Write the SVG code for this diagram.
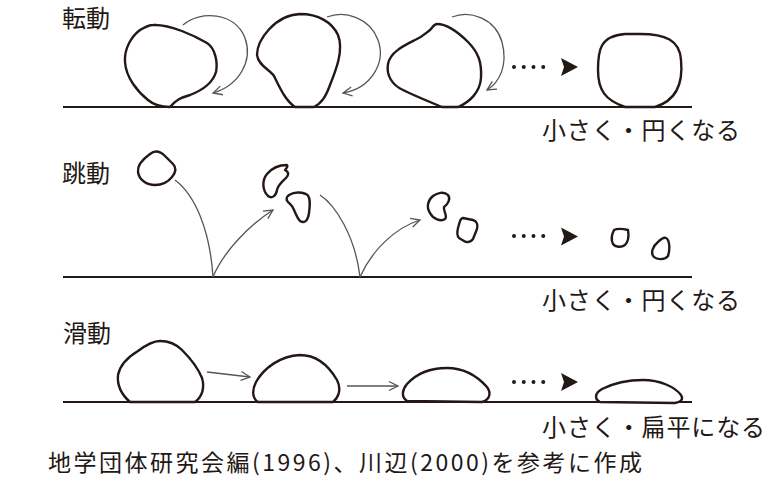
<svg xmlns="http://www.w3.org/2000/svg" width="774" height="483" viewBox="0 0 774 483">
  <defs>
    <style>
      .ground { stroke: #231815; stroke-width: 2.2; fill: none; }
      .rock { stroke: #231815; stroke-width: 2.4; fill: #ffffff; stroke-linejoin: round; }
      .move { stroke: #555555; stroke-width: 1.3; fill: none; }
      .dots { stroke: #231815; stroke-width: 4; stroke-linecap: round; stroke-dasharray: 0 9.75; fill: none; }
      .head { fill: #231815; }
      .label { font-family: "Noto Sans CJK JP", "Noto Sans", sans-serif; font-size: 24px; fill: #231815; }
      .note { font-family: "Noto Sans CJK JP", "Noto Sans", sans-serif; font-size: 23px; fill: #231815; }
    </style>
    <marker id="open" viewBox="0 0 12 12" refX="10" refY="6" markerWidth="12" markerHeight="12" markerUnits="userSpaceOnUse" orient="auto">
      <path d="M1,1.5 L10,6 L1,10.5" fill="none" stroke="#555555" stroke-width="1.3"/>
    </marker>
  </defs>
  <rect width="774" height="483" fill="#ffffff"/>

  <!-- rolling -->
  <g id="rolling">
    <text class="label" x="62" y="27">転動</text>
    <line class="ground" x1="63" y1="107" x2="692" y2="107"/>
    <g id="roll-rock-1"><path class="rock" d="M153,25 C170,24 195,36 207,43 C215,48 218,62 216,72 C213,82 203,90 190,95 C180,98 176,100 170,107 C163,107 155,106 148,100 C138,92 126,78 125,62 C124,48 132,36 140,30 C145,27 149,25 153,25 Z"/></g>
    <g id="roll-rock-2"><path class="rock" d="M300,14 C318,14 332,22 338,35 C344,50 336,70 330,85 C326,96 322,103 314,107 L295,107 C285,100 280,88 274,76 C270,70 258,65 257,55 C257,40 275,15 300,14 Z"/></g>
    <g id="roll-rock-3"><path class="rock" d="M437,24 C448,24 458,32 468,42 C478,52 482,62 481,78 C480,92 470,102 458,107 L442,107 C430,102 415,96 403,90 C392,85 386,75 388,64 C390,52 405,45 415,40 C422,37 425,34 430,30 C433,27 434,24 437,24 Z"/></g>
    <g id="roll-rock-4"><path class="rock" d="M640,34 C665,34 680,40 681,60 C683,80 678,100 655,107 L625,107 C605,100 598,90 598,70 C598,50 600,36 625,34 Z"/></g>
    <text class="label" x="542" y="139" textLength="198" lengthAdjust="spacing">小さく・円くなる</text>
  </g>

  <!-- saltation -->
  <g id="saltation">
    <text class="label" x="62" y="182">跳動</text>
    <line class="ground" x1="63" y1="277" x2="692" y2="277"/>
    <g id="jump-rock-1"><path class="rock" d="M150,154 C155,150 160,151 165,156 L173,164 C177,168 176,172 172,177 C168,182 162,185 155,185 C147,185 139,180 138,172 C137,165 143,159 150,154 Z"/></g>
    <g id="jump-frag-1"><path class="rock" d="M287,165 C280,165 272,168 267,174 C262,180 262,190 268,196 C272,199 276,196 277,190 C278,185 282,182 286,178 C289,175 289,172 285,170 C287,168 288,166 287,165 Z"/></g>
    <g id="jump-frag-2"><path class="rock" d="M289,195 C294,192 300,192 306,194 C311,196 310,205 309,213 C308,220 305,224 300,221 C297,218 296,214 294,210 C293,206 290,204 288,202 C286,200 286,197 289,195 Z"/></g>
    <g id="jump-frag-3"><path class="rock" d="M433,196 C437,193 444,191 448,195 C451,199 448,204 444,207 C443,211 448,216 445,219 C441,222 433,219 430,213 C426,207 428,200 433,196 Z"/></g>
    <g id="jump-frag-4"><path class="rock" d="M463,218 L473,220 C477,221 478,225 477,229 L473,239 C471,242 467,243 464,241 L459,238 C457,236 457,232 458,228 L460,221 C461,219 462,218 463,218 Z"/></g>
    <g id="jump-grain-1"><path class="rock" d="M614,230 C618,228 624,229 628,230 C629,236 628,242 625,245 C621,248 615,247 613,244 C611,240 612,234 614,230 Z"/></g>
    <g id="jump-grain-2"><path class="rock" d="M666,238 C670,240 670,250 668,256 C665,260 657,260 654,257 C650,253 653,246 658,242 C661,239 664,237 666,238 Z"/></g>
    <text class="label" x="542" y="309" textLength="198" lengthAdjust="spacing">小さく・円くなる</text>
  </g>

  <!-- sliding -->
  <g id="sliding">
    <text class="label" x="63" y="342">滑動</text>
    <line class="ground" x1="63" y1="402" x2="692" y2="402"/>
    <g id="slide-rock-1"><path class="rock" d="M130,402 C122,395 117,385 118,375 C120,365 128,357 138,351 C146,345 153,341 160,341 C168,341 176,344 182,350 C190,358 198,368 202,378 C205,388 202,397 195,402 Z"/></g>
    <g id="slide-rock-2"><path class="rock" d="M258,402 C252,398 252,390 256,382 C264,368 280,356 300,355 C318,355 330,368 337,380 C342,390 338,398 333,402 Z"/></g>
    <g id="slide-rock-3"><path class="rock" d="M407,401 C401,397 402,390 407,384 C417,373 432,368 447,368 C465,368 478,377 487,387 C492,394 489,400 482,402 Z"/></g>
    <g id="slide-rock-4"><path class="rock" d="M600,402 C594,399 595,393 602,389 C614,383 630,380 643,380 C660,380 675,387 681,395 C684,400 680,402 675,403 Z"/></g>
    <text class="label" x="542" y="436" textLength="223" lengthAdjust="spacing">小さく・扁平になる</text>
  </g>

  <!-- connectors -->
  <g id="connectors">
    <path class="move" marker-end="url(#open)" d="M183,25 C200,10 235,12 245,38 C253,60 240,85 213,93"/>
    <path class="move" marker-end="url(#open)" d="M327,17 C345,10 370,18 378,40 C386,62 372,88 343,93"/>
    <path class="move" marker-end="url(#open)" d="M452,17 C470,10 495,18 502,42 C508,65 500,82 487,90"/>
    <path class="dots" d="M514,67 L553,67"/>
    <path class="head" d="M561,58 L578,67 L561,76 L564,67 Z"/>

    <path class="move" d="M175,180 C195,195 210,230 213,277"/>
    <path class="move" marker-end="url(#open)" d="M213,277 C222,255 245,228 273,210"/>
    <path class="move" d="M320,195 C335,205 355,235 360,277"/>
    <path class="move" marker-end="url(#open)" d="M360,277 C372,250 395,228 420,220"/>
    <path class="dots" d="M514,236 L553,236"/>
    <path class="head" d="M561,227.5 L578,236.5 L561,245.5 L564,236.5 Z"/>

    <path class="move" marker-end="url(#open)" d="M207,372 L250,377"/>
    <path class="move" marker-end="url(#open)" d="M347,386 L398,386"/>
    <path class="dots" d="M514,382 L553,382"/>
    <path class="head" d="M561,373 L578,382 L561,391 L564,382 Z"/>
  </g>

  <text class="note" x="48" y="471" textLength="594" lengthAdjust="spacing">地学団体研究会編(1996)、川辺(2000)を参考に作成</text>
</svg>
